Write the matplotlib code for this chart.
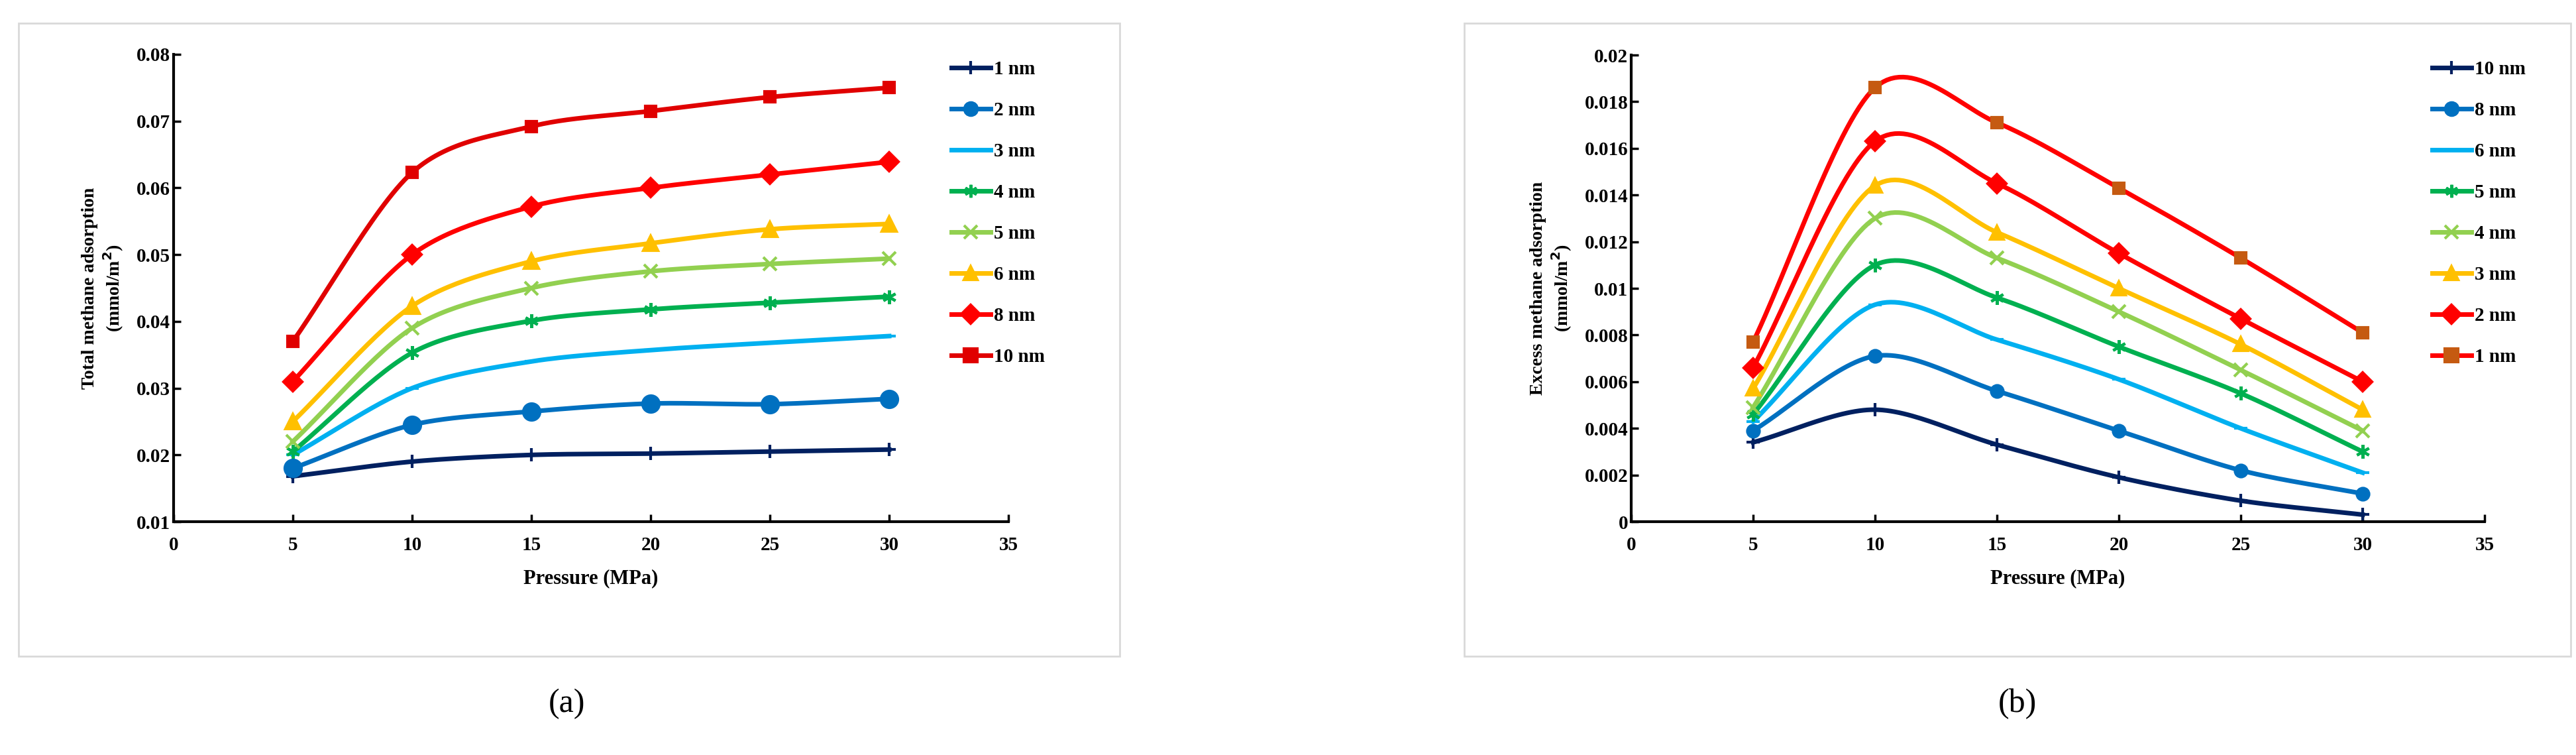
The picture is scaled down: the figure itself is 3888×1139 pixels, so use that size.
import numpy as np
import matplotlib.pyplot as plt
from matplotlib.patches import Rectangle
from matplotlib.lines import Line2D

plt.rcParams["font.family"] = ["Liberation Serif", "DejaVu Serif"]
plt.rcParams["font.weight"] = "bold"

pressure = [5, 10, 15, 20, 25, 30]

total_labels = ["1 nm", "2 nm", "3 nm", "4 nm", "5 nm", "6 nm", "8 nm", "10 nm"]
total_values = [
    [0.0168, 0.0190, 0.0200, 0.0202, 0.0205, 0.0208],
    [0.0180, 0.0245, 0.0265, 0.0277, 0.0276, 0.0284],
    [0.0200, 0.0300, 0.0340, 0.0357, 0.0368, 0.0378],
    [0.0205, 0.0353, 0.0401, 0.0418, 0.0428, 0.0437],
    [0.0220, 0.0390, 0.0450, 0.0475, 0.0486, 0.0494],
    [0.0250, 0.0423, 0.0490, 0.0517, 0.0538, 0.0546],
    [0.0310, 0.0500, 0.0572, 0.0600, 0.0620, 0.0639],
    [0.0370, 0.0623, 0.0692, 0.0715, 0.0736, 0.0750],
]
total_colors = ["#002060", "#0070C0", "#00B0F0", "#00B050", "#92D050", "#FFC000", "#FF0000", "#E00000"]
total_markers = ["+", "o", "_", (6, 2, 0), "x", "^", "D", "s"]
total_sizes = [15, 18, 14, 15, 15, 16, 14, 12]

excess_labels = ["10 nm", "8 nm", "6 nm", "5 nm", "4 nm", "3 nm", "2 nm", "1 nm"]
excess_values = [
    [0.0034, 0.0048, 0.0033, 0.0019, 0.0009, 0.0003],
    [0.0039, 0.0071, 0.0056, 0.0039, 0.0022, 0.0012],
    [0.0043, 0.0093, 0.0078, 0.0061, 0.0040, 0.0021],
    [0.0046, 0.0110, 0.0096, 0.0075, 0.0055, 0.0030],
    [0.0049, 0.0130, 0.0113, 0.0090, 0.0065, 0.0039],
    [0.0057, 0.0144, 0.0124, 0.0100, 0.0076, 0.0048],
    [0.0066, 0.0163, 0.0145, 0.0115, 0.0087, 0.0060],
    [0.0077, 0.0186, 0.0171, 0.0143, 0.0113, 0.0081],
]
excess_colors = ["#002060", "#0070C0", "#00B0F0", "#00B050", "#92D050", "#FFC000", "#FF0000", "#FF0000"]
excess_markers = ["+", "o", "_", (6, 2, 0), "x", "^", "D", "s"]
excess_mfc = [None] * 7 + ["#C55A11"]
excess_sizes = [15, 13, 14, 15, 15, 15, 14, 12]

W, H = 3888, 1139


def smooth(x, y, n=30):
    # Catmull-Rom style curve through the points (Excel-like smoothing)
    x = np.asarray(x, float)
    y = np.asarray(y, float)
    px = np.concatenate([[2 * x[0] - x[1]], x, [2 * x[-1] - x[-2]]])
    py = np.concatenate([[2 * y[0] - y[1]], y, [2 * y[-1] - y[-2]]])
    xs, ys = [], []
    t = np.linspace(0, 1, n)
    for i in range(1, len(px) - 2):
        for p, out in ((px, xs), (py, ys)):
            p0, p1, p2, p3 = p[i - 1], p[i], p[i + 1], p[i + 2]
            m1 = (p2 - p0) / 2 * 0.9
            m2 = (p3 - p1) / 2 * 0.9
            h00 = 2 * t**3 - 3 * t**2 + 1
            h10 = t**3 - 2 * t**2 + t
            h01 = -2 * t**3 + 3 * t**2
            h11 = t**3 - t**2
            out.extend(h00 * p1 + h10 * m1 + h01 * p2 + h11 * m2)
    return xs, ys


def box(l, b, r, t):
    return [l / W, 1 - b / H, (r - l) / W, (b - t) / H]


fig = plt.figure(figsize=(W / 100, H / 100), dpi=100)
for l, r in ((28, 1690), (2210, 3880)):
    fig.add_artist(Rectangle((l / W, 1 - 990 / H), (r - l) / W, 955 / H,
                             transform=fig.transFigure, fill=False,
                             edgecolor="#D9D9D9", linewidth=2))


def panel(rect, labels, values, colors, markers, mfcs, sizes, ylim, yticks, yfmt, ylabel, leg_x, caption, cap_x):
    ax = fig.add_axes(rect)
    for lab, vals, c, m, mfc, ms in zip(labels, values, colors, markers, mfcs, sizes):
        sx, sy = smooth(pressure, vals)
        ax.plot(sx, sy, color=c, linewidth=5)
        ax.plot(pressure, vals, linestyle="none", marker=m, color=c,
                markerfacecolor=mfc or c, markeredgecolor=mfc or c,
                markersize=ms, markeredgewidth=3)
    ax.set_xlim(0, 35)
    ax.set_ylim(*ylim)
    ax.set_xticks(range(0, 36, 5))
    ax.set_yticks(yticks)
    ax.set_yticklabels([yfmt(v) for v in yticks])
    for s in ("top", "right"):
        ax.spines[s].set_visible(False)
    for s in ("left", "bottom"):
        ax.spines[s].set_linewidth(3)
    ax.tick_params(labelsize=21, width=2.5, length=8, direction="in")
    ax.tick_params(axis="x", direction="in", pad=16)
    ax.set_xlabel("Pressure (MPa)", fontsize=22, fontweight="bold", labelpad=16)
    ax.set_ylabel(ylabel, fontsize=20, fontweight="bold", labelpad=12)
    handles = [Line2D([], [], color=c, linewidth=5, marker=m,
                      markerfacecolor=mfc or c, markeredgecolor=mfc or c,
                      markersize=14, markeredgewidth=3)
               for c, m, mfc in zip(colors, markers, mfcs)]
    fig.legend(handles, labels, loc="upper left", bbox_to_anchor=(leg_x, 1 - 65 / H),
               frameon=False, fontsize=21, handlelength=2.0, handletextpad=0.2,
               labelspacing=1.2)
    fig.text(cap_x, 1 - 1062 / H, caption, fontsize=36, ha="center", va="center",
             fontweight="normal")
    return ax


panel(box(262, 787, 1522, 82), total_labels, total_values, total_colors, total_markers,
      [None] * 8, total_sizes, (0.01, 0.08), np.arange(0.01, 0.081, 0.01),
      lambda v: f"{v:.2f}".rstrip("0") if v else "0",
      "Total methane adsorption\n(mmol/m$^2$)", 1410 / W, "(a)", 855 / W)

panel(box(2462, 787, 3750, 83), excess_labels, excess_values, excess_colors, excess_markers,
      excess_mfc, excess_sizes, (0, 0.02), np.arange(0, 0.0201, 0.002),
      lambda v: ("%.3f" % v).rstrip("0").rstrip(".") if v > 1e-9 else "0",
      "Excess methane adsorption\n(mmol/m$^2$)", 3645 / W, "(b)", 3045 / W)

fig.savefig("out.png", dpi=100)
